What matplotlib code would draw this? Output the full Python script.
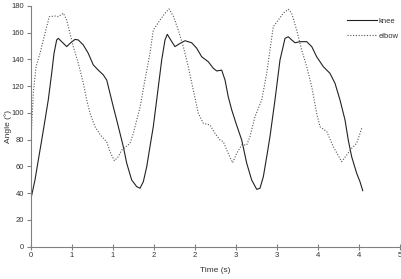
import numpy as np
import matplotlib.pyplot as plt
from matplotlib.ticker import FixedLocator, FuncFormatter

plt.rcParams['font.family'] = ['Liberation Sans', 'DejaVu Sans']

# knee angle (deg) vs time (s)
knee_t = [0.0, 0.01, 0.054, 0.099, 0.145, 0.19, 0.234, 0.28, 0.312, 0.348, 0.37,
          0.416, 0.484, 0.528, 0.596, 0.641, 0.709, 0.776, 0.844, 0.912, 0.98,
          1.026, 1.07, 1.115, 1.161, 1.206, 1.251, 1.297, 1.364, 1.432, 1.477,
          1.522, 1.568, 1.612, 1.657, 1.703, 1.771, 1.816, 1.847, 1.893, 1.951,
          2.019, 2.087, 2.177, 2.245, 2.313, 2.402, 2.47, 2.516, 2.584, 2.629,
          2.673, 2.72, 2.778, 2.855, 2.923, 2.99, 3.058, 3.103, 3.148, 3.194,
          3.238, 3.306, 3.374, 3.442, 3.486, 3.532, 3.577, 3.645, 3.736, 3.804,
          3.871, 3.961, 4.051, 4.119, 4.187, 4.255, 4.299, 4.345, 4.413, 4.458, 4.495]
knee = [37, 38.5, 49.8, 64.7, 79.6, 94.7, 109.7, 129.6, 144.6, 154.6, 155.8,
        153.3, 149.6, 152, 155, 154.6, 150.8, 144.6, 135.9, 132, 128.4,
        124.6, 114.7, 104.6, 94.7, 84.7, 74.7, 62.3, 49.8, 44.8, 43.6,
        48.5, 59.7, 74.7, 89.7, 109.7, 139.6, 154.6, 158.8, 154.6, 149.6,
        152, 154, 152.5, 148.4, 142, 138.3, 133.4, 131.4, 132, 124.6,
        112, 102.2, 92.2, 79.7, 62.3, 49.8, 42.8, 43.6, 52.2, 67.2,
        82.2, 109.7, 139.6, 155.8, 157, 154.6, 152.5, 153.3, 153.3, 149.6,
        142, 134.6, 129.6, 122.2, 109.7, 94.7, 79.7, 67.2, 54.8, 48.5, 41.8]

# elbow angle (deg) vs time (s)
elbow_t = [0.0, 0.031, 0.068, 0.122, 0.19, 0.248, 0.325, 0.37, 0.438, 0.484,
           0.528, 0.573, 0.641, 0.709, 0.755, 0.8, 0.867, 0.935, 0.98, 1.026,
           1.07, 1.129, 1.183, 1.229, 1.274, 1.341, 1.387, 1.432, 1.477, 1.545,
           1.612, 1.657, 1.748, 1.816, 1.87, 1.928, 1.996, 2.064, 2.131, 2.199,
           2.267, 2.335, 2.425, 2.493, 2.561, 2.606, 2.673, 2.733, 2.787, 2.855,
           2.923, 2.967, 3.035, 3.126, 3.194, 3.238, 3.283, 3.351, 3.419, 3.486,
           3.532, 3.6, 3.668, 3.736, 3.804, 3.871, 3.916, 4.007, 4.096, 4.21,
           4.278, 4.345, 4.413, 4.481]
elbow = [79.7, 114.7, 134.6, 144.6, 159.6, 172, 172.5, 172, 174.6, 169.5,
         159.6, 149.6, 137.1, 122.2, 109.7, 99.7, 89.7, 84, 81, 78.4,
         71, 64.2, 67.2, 72.2, 74.2, 77.2, 84.7, 94.7, 104, 125,
         144.6, 162, 169.5, 174.6, 177.8, 172.5, 162, 149.6, 134.6, 117.1,
         99.7, 92.2, 91, 84.7, 79.7, 78.4, 69.6, 62.7, 69.7, 76,
         76, 82.2, 97.2, 109.7, 129.6, 147, 164.5, 169.5, 174.6, 177.5,
         174.6, 162, 147, 134.6, 119.6, 99.7, 89.7, 86, 74.7, 63.5,
         68.5, 73.5, 77.2, 88.5]

fig = plt.figure(figsize=(4.02, 2.79), dpi=100)
ax = fig.add_axes([31/402, 32.5/279, 369/402, 240.5/279])

ax.plot(knee_t, knee, color='#222222', lw=0.8, label='knee')
ax.plot(elbow_t, elbow, color='#555555', lw=0.8, ls=(0, (1, 1.5)), label='elbow')

ax.set_xlim(0, 5)
ax.set_ylim(0, 180)
ax.xaxis.set_major_locator(FixedLocator(np.linspace(0, 5, 10)))
ax.xaxis.set_major_formatter(FuncFormatter(lambda v, p: f"{round(v):.0f}"))
ax.set_yticks(np.arange(0, 181, 20))

for s in ['top', 'right']:
    ax.spines[s].set_visible(False)
for s in ['left', 'bottom']:
    ax.spines[s].set_color('#808080')
    ax.spines[s].set_linewidth(0.8)
ax.tick_params(axis='both', labelsize=5.5, colors='#808080', labelcolor='#333333',
               length=3, width=0.8, pad=2)
ax.tick_params(axis='x', direction='inout', length=4)

ax.set_xlabel('Time (s)', fontsize=6, color='#333333')
ax.set_ylabel('Angle (°)', fontsize=6, color='#333333')
ax.xaxis.set_label_coords(0.5, -0.085)
ax.yaxis.set_label_coords(-0.052, 0.5)

leg = ax.legend(loc='upper right', bbox_to_anchor=(1.015, 0.98), frameon=False,
                fontsize=5.5, handlelength=4, handletextpad=0.2, labelspacing=1.0)
for t in leg.get_texts():
    t.set_color('#333333')

fig.savefig('out.png', dpi=100)
